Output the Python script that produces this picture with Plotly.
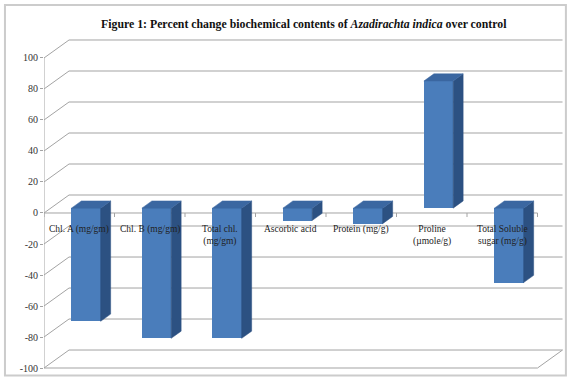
import plotly.graph_objects as go

# Percent change of biochemical contents relative to control
categories = [
    "Chl. A (mg/gm)",
    "Chl. B (mg/gm)",
    "Total chl.<br>(mg/gm)",
    "Ascorbic acid",
    "Protein (mg/g)",
    "Proline<br>(µmole/g)",
    "Total Soluble<br>sugar (mg/g)",
]
percent_change = [-73, -84, -84, -8, -10, 82, -48]
y_ticks = [-100, -80, -60, -40, -20, 0, 20, 40, 60, 80, 100]

# 3-D box geometry, in data units
WALL_DX = 0.355      # depth of the box along the category axis
WALL_DY = 11.6       # depth of the box along the value axis
BAR_POS = 0.27       # depth fraction at which bar fronts sit
BAR_DEPTH = 0.40     # bar depth as a fraction of the box depth
BAR_WIDTH = 0.415

FRONT = "#4a7dbb"
TOP = "#3b67a1"
SIDE = "#2c5182"
GRID = "#a3a3a3"
SERIF = "Liberation Serif, Times New Roman, DejaVu Serif, serif"

n = len(categories)
vmin, vmax = min(y_ticks), max(y_ticks)

fig = go.Figure()

# Box wireframe: back wall gridlines, side wall diagonals, floor, front axis
shapes = []

def seg(x0, y0, x1, y1, color=GRID, width=1):
    shapes.append(dict(type="line", xref="x", yref="y", x0=x0, y0=y0, x1=x1, y1=y1,
                       line=dict(color=color, width=width), layer="below"))

for v in y_ticks:
    seg(WALL_DX, v + WALL_DY, n + WALL_DX, v + WALL_DY)
    seg(0, v, WALL_DX, v + WALL_DY)
seg(0, vmin, 0, vmax)
seg(0, vmin, n, vmin)
seg(n, vmin, n + WALL_DX, vmin + WALL_DY)
# category axis at zero with tick marks
seg(0, 0, n, 0)
for i in range(n + 1):
    seg(i, 0, i, -2.6)

# Outer chart frame
shapes.append(dict(type="rect", xref="paper", yref="paper",
                   x0=-0.0745, y0=0.004, x1=0.996, y1=0.987,
                   line=dict(color="#cccccc", width=2), layer="below"))

# Bar front faces
bx = [i + 0.5 + BAR_POS * WALL_DX for i in range(n)]
base = BAR_POS * WALL_DY
fig.add_trace(go.Bar(
    x=bx, y=percent_change, base=base, width=BAR_WIDTH,
    marker=dict(color=FRONT, line=dict(width=0)),
    hoverinfo="skip", showlegend=False,
))

# Bar top and side faces
ddx = BAR_DEPTH * WALL_DX
ddy = BAR_DEPTH * WALL_DY
for xc, v in zip(bx, percent_change):
    x0, x1 = xc - BAR_WIDTH / 2, xc + BAR_WIDTH / 2
    ytop = base + max(0, v)
    ybot = base + min(0, v)
    fig.add_trace(go.Scatter(
        x=[x1, x1, x1 + ddx, x1 + ddx, x1],
        y=[ybot, ytop, ytop + ddy, ybot + ddy, ybot],
        fill="toself", fillcolor=SIDE, mode="lines",
        line=dict(color=SIDE, width=0.5), hoverinfo="skip", showlegend=False,
    ))
    fig.add_trace(go.Scatter(
        x=[x0, x1, x1 + ddx, x0 + ddx, x0],
        y=[ytop, ytop, ytop + ddy, ytop + ddy, ytop],
        fill="toself", fillcolor=TOP, mode="lines",
        line=dict(color=TOP, width=0.5), hoverinfo="skip", showlegend=False,
    ))

# Category labels under the zero line
annotations = [
    dict(x=i + 0.5, y=-5.8, xref="x", yref="y", text=c, showarrow=False,
         yanchor="top", xanchor="center", align="center",
         font=dict(family=SERIF, size=9.5, color="#222222"))
    for i, c in enumerate(categories)
]
annotations.append(dict(
    x=0.496, y=0.936, xref="paper", yref="paper", showarrow=False,
    xanchor="center", yanchor="middle",
    text="<b>Figure 1: Percent change biochemical contents of <i>Azadirachta indica</i> over control</b>",
    font=dict(family=SERIF, size=11.8, color="#111111"),
))

fig.update_layout(
    width=568, height=377,
    margin=dict(l=44, r=0, t=0, b=0),
    paper_bgcolor="white", plot_bgcolor="white",
    shapes=shapes, annotations=annotations,
    bargap=0, showlegend=False,
    font=dict(family=SERIF),
    xaxis=dict(range=[0, 524 / 70.5], visible=False, fixedrange=True),
    yaxis=dict(range=[-105.8, 137.4], tickvals=y_ticks, ticktext=[str(t) for t in y_ticks],
               showgrid=False, zeroline=False, showline=False,
               ticks="outside", ticklen=3, tickcolor=GRID,
               tickfont=dict(family=SERIF, size=10, color="#333333"),
               fixedrange=True),
)

fig.write_html("out.html")
